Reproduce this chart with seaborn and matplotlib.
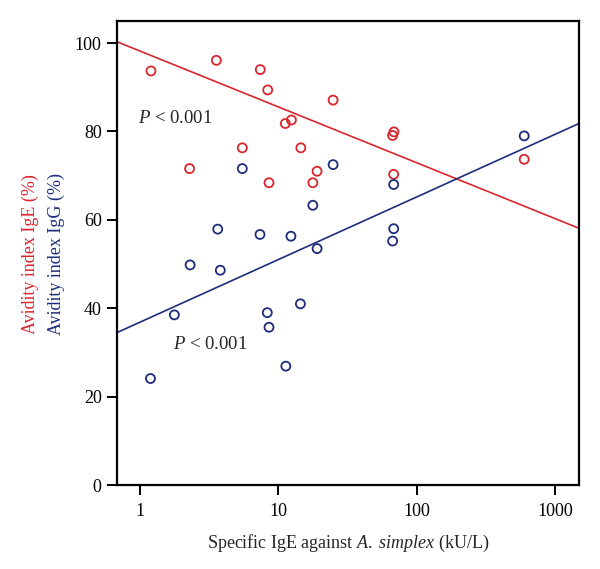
import numpy as np
import matplotlib
matplotlib.use("Agg")
import matplotlib.pyplot as plt
import seaborn as sns
import pandas as pd

# ─── Data ──────────────────────────────────────────────────────────────────────
ige_x = [1.20, 3.56, 7.39, 8.36, 24.8, 11.2, 12.4, 5.48, 14.5, 2.28, 19.0, 8.54,
         17.7, 68.2, 66.7, 67.9, 595]
ige_y = [93.7, 96.1, 94.0, 89.4, 87.1, 81.8, 82.6, 76.3, 76.3, 71.6, 71.0, 68.4,
         68.4, 79.9, 79.1, 70.3, 73.7]

igg_x = [5.48, 24.8, 17.7, 3.64, 7.35, 12.3, 19.0, 2.30, 3.80, 1.77, 8.30, 8.54,
         14.4, 11.3, 1.19, 595, 67.9, 67.9, 66.7]
igg_y = [71.6, 72.5, 63.3, 57.9, 56.7, 56.3, 53.5, 49.8, 48.6, 38.5, 39.0, 35.7,
         41.0, 26.9, 24.1, 79.0, 68.0, 58.0, 55.2]

# fitted lines as printed: y = a + b * log10(x)
ige_fit = (98.2, -12.65)
igg_fit = (36.85, 14.18)

x_ticks = [1, 10, 100, 1000]
y_ticks = [0, 20, 40, 60, 80, 100]
XLIM = (0.682, 1480)
YLIM = (0, 105)

RED  = "#d9262e"
BLUE = "#1d2d7c"

df_e = pd.DataFrame({"x": ige_x, "y": ige_y})
df_g = pd.DataFrame({"x": igg_x, "y": igg_y})

# ─── Style ────────────────────────────────────────────────────────────────────
sns.set_style("ticks")
plt.rcParams["font.family"] = ["Liberation Serif", "DejaVu Serif"]
plt.rcParams["mathtext.fontset"] = "custom"
plt.rcParams["mathtext.rm"] = "Liberation Serif"
plt.rcParams["mathtext.it"] = "Liberation Serif:italic"

fig = plt.figure(figsize=(6.0, 5.69), dpi=100)
ax = fig.add_axes([0.195, 0.1476, 0.77, 0.8155])
ax.set_xscale("log")

# ─── Regression lines + points ────────────────────────────────────────────────
grid = np.logspace(np.log10(XLIM[0]), np.log10(XLIM[1]), 50)
for df, (a, b), col in [(df_e, ige_fit, RED), (df_g, igg_fit, BLUE)]:
    line = pd.DataFrame({"x": grid, "y": a + b * np.log10(grid)})
    sns.lineplot(data=line, x="x", y="y", ax=ax, color=col, lw=1.2)
    sns.scatterplot(data=df, x="x", y="y", ax=ax, s=42, facecolors="none",
                    edgecolor=col, linewidth=1.3, zorder=3)

ax.set_xlim(*XLIM)
ax.set_ylim(*YLIM)

ax.text(0.96, 83.0, "$P$ < 0.001", fontsize=13.5, va="center", ha="left")
ax.text(1.74, 31.8, "$P$ < 0.001", fontsize=13.5, va="center", ha="left")

# ─── Axes ─────────────────────────────────────────────────────────────────────
ax.set_xticks(x_ticks)
ax.set_xticklabels([str(t) for t in x_ticks])
ax.xaxis.set_minor_locator(matplotlib.ticker.NullLocator())
ax.set_yticks(y_ticks)
ax.tick_params(axis="both", labelsize=13, length=7, width=1.4, direction="out",
               color="black", labelcolor="black")
ax.tick_params(axis="x", pad=6)
ax.tick_params(axis="y", pad=4)
for s in ax.spines.values():
    s.set_visible(True)
    s.set_linewidth(1.6)
    s.set_color("black")

ax.set_xlabel(r"Specific IgE against $\mathit{A.\ simplex}$ (kU/L)", fontsize=13,
              labelpad=9)
ax.set_ylabel("")

fig.text(0.05, 0.554, "Avidity index IgE (%)", color=RED, rotation=90,
         fontsize=13, ha="center", va="center")
fig.text(0.094, 0.554, "Avidity index IgG (%)", color=BLUE, rotation=90,
         fontsize=13, ha="center", va="center")

fig.savefig("out.png", dpi=100)
plt.close(fig)
